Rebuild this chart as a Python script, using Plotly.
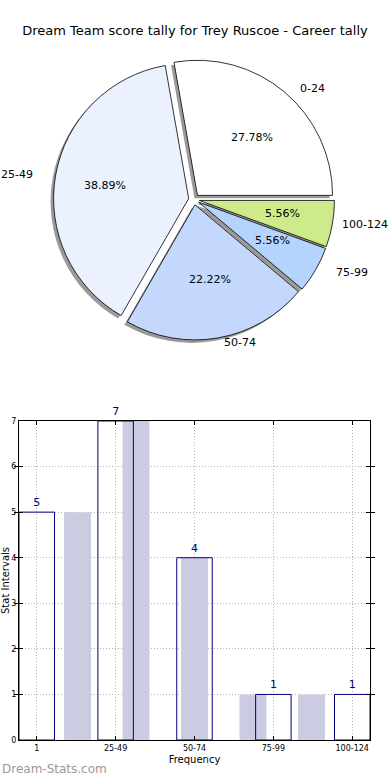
import math
import plotly.graph_objects as go

# ---- data ----
categories = ["0-24", "25-49", "50-74", "75-99", "100-124"]
counts = [5, 7, 4, 1, 1]
bar_tick_labels = ["1", "25-49", "50-74", "75-99", "100-124"]
pie_colors = ["#ffffff", "#ebf1fe", "#c4d8fe", "#b4d4fe", "#cdeb8b"]
title_text = "Dream Team score tally for Trey Ruscoe - Career tally"

W, H = 390, 780
PULL = 0.04

def px_x(v):
    return v / W

def px_y(v):
    return 1 - v / H

# pie box (pixels)
cx, cy, half = 194, 199.5, 140.5
dom_x = [px_x(cx - half), px_x(cx + half)]
dom_y = [px_y(cy + half), px_y(cy - half)]
sh = 3  # shadow offset in px
dom_x_sh = [dom_x[0] - sh / W, dom_x[1] - sh / W]
dom_y_sh = [dom_y[0] - sh / H, dom_y[1] - sh / H]

fig = go.Figure()

# slices run counterclockwise from 3 o'clock: draw reversed list clockwise from 3 o'clock
pie_labels = categories[::-1]
pie_values = counts[::-1]
pie_cols = pie_colors[::-1]

common = dict(labels=pie_labels, values=pie_values, sort=False, direction="clockwise",
              rotation=90, pull=[PULL] * len(pie_labels), showlegend=False, hoverinfo="skip",
              textinfo="none")

# shadow
fig.add_trace(go.Pie(**common, domain=dict(x=dom_x_sh, y=dom_y_sh),
                     marker=dict(colors=["#9a9a9a"] * len(pie_labels), line=dict(width=0))))
# main pie
fig.add_trace(go.Pie(**common, domain=dict(x=dom_x, y=dom_y),
                     marker=dict(colors=pie_cols, line=dict(color="#000000", width=0.8))))

# pie texts (labels outside at 1.1 radius, percentages at 0.6 radius)
annotations = []
total = sum(counts)
Rx, Ry, ex = 142, 128, 0.035
cum = 0
for lab, c in zip(categories, counts):
    mid = math.radians(360 * (cum + c / 2) / total)
    cum += c
    cs, sn = math.cos(mid), math.sin(mid)
    ox, oy = ex * Rx * cs, ex * Ry * sn
    lx = cx + ox + 1.1 * Rx * cs
    ly = cy - oy - 1.1 * Ry * sn
    est_w = 6.6 * len(lab)
    if cs > 0 and lx + est_w > W - 1:
        ann_x, anchor = 1.0, "right"
    else:
        ann_x, anchor = px_x(lx), ("left" if cs > 0 else "right")
    annotations.append(dict(text=lab, x=ann_x, y=px_y(ly), xref="paper", yref="paper",
                            xanchor=anchor, yanchor="middle", showarrow=False,
                            font=dict(family="DejaVu Sans", size=11, color="#000000")))
    tx = cx + ox + 0.6 * Rx * cs
    ty = cy - oy - 0.6 * Ry * sn
    annotations.append(dict(text=f"{100 * c / total:.2f}%", x=px_x(tx), y=px_y(ty),
                            xref="paper", yref="paper", xanchor="center", yanchor="middle",
                            showarrow=False,
                            font=dict(family="DejaVu Sans", size=11, color="#000000")))

# ---- bar chart ----
idx = list(range(len(categories)))
fig.add_trace(go.Bar(x=idx, y=counts, width=0.46, xaxis="x", yaxis="y",
                     marker=dict(color="#cbcbe2", line=dict(width=0)),
                     showlegend=False, hoverinfo="skip"))
fig.add_trace(go.Bar(x=idx, y=counts, width=0.45, xaxis="x2", yaxis="y",
                     marker=dict(color="rgba(0,0,0,0)", line=dict(color="#000080", width=1)),
                     text=[str(c) for c in counts], textposition="outside", cliponaxis=False,
                     textfont=dict(family="DejaVu Sans", size=11, color="#000080"),
                     showlegend=False, hoverinfo="skip"))

bar_dom_x = [px_x(19), px_x(370)]
bar_dom_y = [px_y(740), px_y(421)]
grid = dict(gridcolor="#b4b4b4", griddash="1px,2px", gridwidth=1)

annotations.append(dict(text="Dream-Stats.com", x=0, y=px_y(769), xref="paper", yref="paper",
                        xanchor="left", yanchor="middle", showarrow=False,
                        font=dict(family="DejaVu Sans", size=12, color="#999999")))

fig.update_layout(
    width=W, height=H,
    margin=dict(l=0, r=0, t=0, b=0, autoexpand=False),
    paper_bgcolor="white", plot_bgcolor="white",
    font=dict(family="DejaVu Sans", color="#000000"),
    title=dict(text=title_text, x=0.5, xanchor="center", y=px_y(30), yanchor="middle",
               font=dict(family="DejaVu Sans", size=13, color="#000000")),
    barmode="overlay",
    xaxis=dict(domain=bar_dom_x, range=[-1, 5], showgrid=False, showticklabels=False,
               ticks="", zeroline=False, showline=False, anchor="y", automargin=False),
    xaxis2=dict(domain=bar_dom_x, range=[-0.225, 4.225], overlaying="x", anchor="y", side="bottom",
                tickmode="array", tickvals=idx, ticktext=bar_tick_labels,
                ticks="inside", ticklen=4, tickcolor="#000000", automargin=False,
                showline=True, linecolor="#000000", linewidth=1, mirror="allticks",
                showgrid=True, **grid, zeroline=False,
                tickfont=dict(family="DejaVu Sans", size=8, color="#000000"),
                title=dict(text="Frequency", font=dict(family="DejaVu Sans", size=10), standoff=4)),
    yaxis=dict(domain=bar_dom_y, range=[0, 7], anchor="x", tickmode="linear", tick0=0, dtick=1,
               ticks="inside", ticklen=4, tickcolor="#000000", automargin=False,
               showline=True, linecolor="#000000", linewidth=1, mirror="allticks",
               showgrid=True, **grid, zeroline=False,
               tickfont=dict(family="DejaVu Sans", size=8, color="#000000"),
               title=dict(text="Stat Intervals", font=dict(family="DejaVu Sans", size=10), standoff=2)),
    annotations=annotations,
)

fig.write_html("out.html", config={"displayModeBar": False},
               post_script="document.body.style.margin='0';")
